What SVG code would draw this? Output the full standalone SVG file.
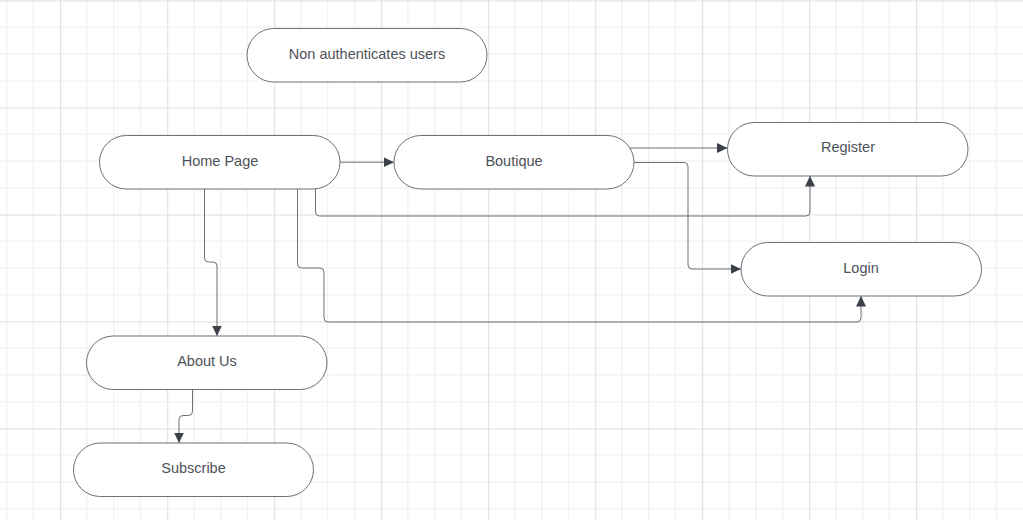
<svg xmlns="http://www.w3.org/2000/svg" width="1023" height="520" viewBox="0 0 1023 520">
<defs>
<pattern id="grid" patternUnits="userSpaceOnUse" x="60.2" y="0.5" width="107" height="107">
<rect width="107" height="107" fill="#ffffff"/>
<path d="M26.75,0V107M53.5,0V107M80.25,0V107M0,26.75H107M0,53.5H107M0,80.25H107" stroke="#ededed" stroke-width="1"/>
<path d="M0.5,0V107M0,0.5H107" stroke="#dedede" stroke-width="1"/>
</pattern>
<marker id="arr" markerUnits="userSpaceOnUse" markerWidth="12" markerHeight="12" refX="10.5" refY="5" orient="auto">
<path d="M0,0L10.5,5L0,10z" fill="#3c4048"/>
</marker>
</defs>
<style>
.node rect{fill:#ffffff;stroke:#6b6f76;stroke-width:1}
.node text{font-family:"Liberation Sans",Arial,sans-serif;font-size:14.5px;fill:#4d5259;text-anchor:middle;dominant-baseline:central}
.conn path{fill:none;stroke:#6b6f76;stroke-width:1;marker-end:url(#arr)}
</style>
<rect width="1023" height="520" fill="url(#grid)"/>
<g id="connectors" class="conn">
<path d="M340,162.2H394"/>
<path d="M630,148H727.5"/>
<path d="M634,162.5H684Q688,162.5 688,166.5V265Q688,269 692,269H741"/>
<path d="M315.5,189V212Q315.5,216 319.5,216H806Q810,216 810,212V176"/>
<path d="M297.5,189V264Q297.5,268 301.5,268H320Q324,268 324,272V318Q324,322 328,322H857Q861,322 861,318V296"/>
<path d="M204.5,189V258Q204.5,262 208.5,262H213Q217,262 217,266V336"/>
<path d="M192.5,389.5V411.5Q192.5,415.5 188.5,415.5H183Q179,415.5 179,419.5V443"/>
</g>
<g id="n-nonauth" class="node"><rect x="247" y="28.5" width="240" height="53.5" rx="26.75"/><text x="367" y="53.5">Non authenticates users</text></g>
<g id="n-home" class="node"><rect x="99.5" y="135.5" width="240.5" height="53.5" rx="26.75"/><text x="220" y="160.5">Home Page</text></g>
<g id="n-boutique" class="node"><rect x="394" y="135.5" width="240" height="53.5" rx="26.75"/><text x="514" y="160.5">Boutique</text></g>
<g id="n-register" class="node"><rect x="727.5" y="122.5" width="240.5" height="53.5" rx="26.75"/><text x="848" y="147">Register</text></g>
<g id="n-login" class="node"><rect x="741" y="242.5" width="240.5" height="53.5" rx="26.75"/><text x="861" y="267.5">Login</text></g>
<g id="n-about" class="node"><rect x="86.5" y="336" width="240.5" height="53.5" rx="26.75"/><text x="207" y="360.5">About Us</text></g>
<g id="n-subscribe" class="node"><rect x="73.5" y="443" width="240" height="53.5" rx="26.75"/><text x="193.5" y="467.5">Subscribe</text></g>
</svg>
